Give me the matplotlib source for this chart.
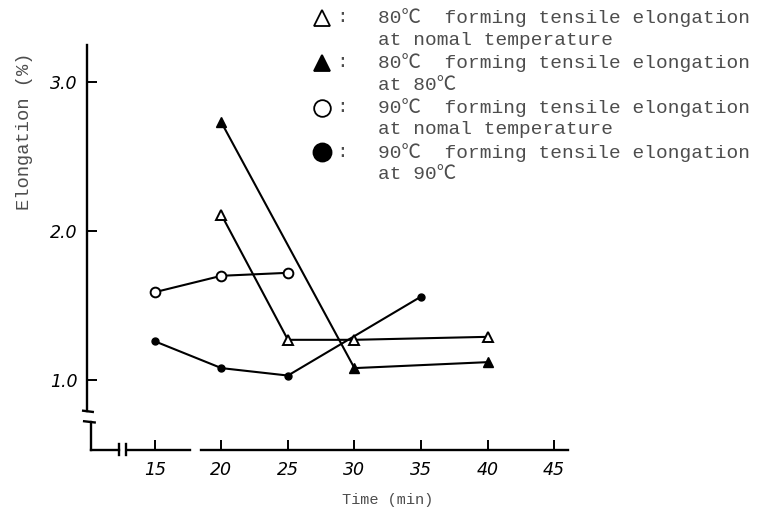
import matplotlib
matplotlib.use("Agg")
import matplotlib.pyplot as plt
import numpy as np

# data
time_80_normal = [20, 25, 30, 40]
elong_80_normal = [2.11, 1.27, 1.27, 1.29]

time_80_hot = [20, 30, 40]
elong_80_hot = [2.73, 1.08, 1.12]

time_90_normal = [15, 20, 25]
elong_90_normal = [1.59, 1.70, 1.72]

time_90_hot = [15, 20, 25, 35]
elong_90_hot = [1.26, 1.08, 1.03, 1.56]

x_ticks = [15, 20, 25, 30, 35, 40, 45]
y_ticks = [1.0, 2.0, 3.0]

legend_lines = [
    ("80℃  forming tensile elongation", "at nomal temperature"),
    ("80℃  forming tensile elongation", "at 80℃"),
    ("90℃  forming tensile elongation", "at nomal temperature"),
    ("90℃  forming tensile elongation", "at 90℃"),
]

mono = ["Liberation Mono", "Noto Sans CJK JP"]
grey = "#4d4d4d"

W, H = 759, 511
fig = plt.figure(figsize=(W / 100, H / 100), dpi=100)
ax = fig.add_axes([87 / W, 61 / H, 481 / W, 405 / H])
ax.set_xlim(9.9, 46.05)
ax.set_ylim(0.53, 3.25)

lw = 1.5
ax.plot(time_90_hot, elong_90_hot, "-o", color="k", lw=lw, ms=5, zorder=3)
ax.plot(time_80_hot, elong_80_hot, "-^", color="k", lw=lw, ms=7, zorder=3)
ax.plot(time_90_normal, elong_90_normal, "-o", color="k", lw=lw, ms=7,
        mfc="white", mew=1.4, zorder=4)
ax.plot(time_80_normal, elong_80_normal, "-^", color="k", lw=lw, ms=7,
        mfc="white", mew=1.4, zorder=4)

# axes drawn by hand to get the breaks
for s in ax.spines.values():
    s.set_visible(False)
tA = ax.transAxes
kw = dict(color="k", lw=1.7, transform=tA, clip_on=False)
ax.plot([0, 0], [1, 0.097], **kw)
ax.plot([0.008, 0.008], [0.068, 0], **kw)
ax.plot([-0.008, 0.012], [0.097, 0.094], **kw)
ax.plot([-0.006, 0.016], [0.071, 0.068], **kw)
ax.plot([0.008, 0.066], [0, 0], **kw)
ax.plot([0.084, 0.215], [0, 0], **kw)
ax.plot([0.236, 1], [0, 0], **kw)
ax.plot([0.066, 0.066], [-0.012, 0.015], **kw)
ax.plot([0.082, 0.082], [-0.012, 0.015], **kw)

ax.set_xticks(x_ticks)
ax.set_xticklabels([str(t) for t in x_ticks])
ax.set_yticks(y_ticks)
ax.set_yticklabels([f"{v:.1f}" for v in y_ticks])
ax.tick_params(axis="both", direction="in", length=7, width=1.4, color="k")
ax.tick_params(axis="x", pad=8)
ax.tick_params(axis="y", pad=7)
for lab in ax.get_xticklabels() + ax.get_yticklabels():
    lab.set_fontstyle("italic")
    lab.set_fontsize(12.5)
    lab.set_fontweight("medium")

ax.text((25 - 87) / 481, (450 - 131) / 405, "Elongation (%)", rotation=90,
        ha="center", va="center", family=mono, fontsize=13.5, color=grey,
        transform=tA)
ax.text((388 - 87) / 481, (450 - 500) / 405, "Time (min)", ha="center",
        va="center", family=mono, fontsize=11, color=grey, transform=tA)

# legend block, top right
markers = [dict(marker="^", mfc="white", ms=11), dict(marker="^", mfc="k", ms=11),
           dict(marker="o", mfc="white", ms=12), dict(marker="o", mfc="k", ms=13)]
tF = fig.transFigure
y0, step = 18, 22.4
for i, ((l1, l2), mk) in enumerate(zip(legend_lines, markers)):
    ya = y0 + 2 * i * step
    fig.add_artist(plt.Line2D([322 / W], [1 - ya / H], color="k", mew=1.3,
                              ls="none", transform=tF, **mk))
    fig.text(342 / W, 1 - ya / H, ":", family=mono, fontsize=14, color=grey,
             ha="center", va="center")
    fig.text(378 / W, 1 - ya / H, l1, family=mono, fontsize=14, color=grey,
             ha="left", va="center")
    fig.text(378 / W, 1 - (ya + step) / H, l2, family=mono, fontsize=14,
             color=grey, ha="left", va="center")

fig.savefig("out.png", dpi=100)
